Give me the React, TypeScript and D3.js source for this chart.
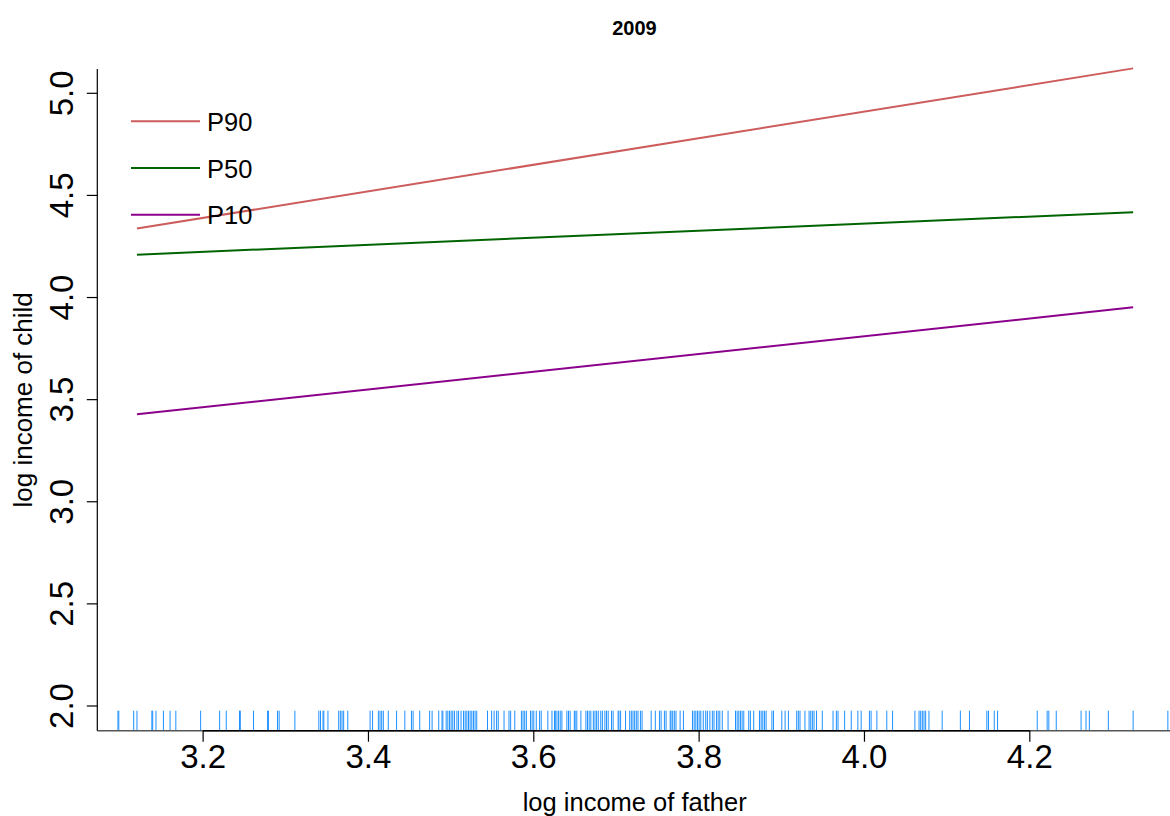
import React from "react";
import * as d3 from "d3";

// Quantile-regression fits of child log income on father log income, 2009
const fitX = [3.12, 4.325];
const p90 = [4.338, 5.122];
const p50 = [4.21, 4.418];
const p10 = [3.428, 3.952];

const seriesNames = ["P90", "P50", "P10"];
const seriesColors = ["#CD5C5C", "#006400", "#8B008B"];

const xTicks = [3.2, 3.4, 3.6, 3.8, 4.0, 4.2];
const yTicks = [2.0, 2.5, 3.0, 3.5, 4.0, 4.5, 5.0];

// Observed father log incomes (rug)
const fatherObs = [
  3.097, 3.098, 3.116, 3.12, 3.138, 3.139, 3.143, 3.152, 3.16, 3.167,
  3.197, 3.22, 3.228, 3.244, 3.245, 3.261, 3.278, 3.279, 3.29, 3.292,
  3.311, 3.34, 3.342, 3.345, 3.346, 3.351, 3.364, 3.366, 3.368, 3.37,
  3.375, 3.402, 3.405, 3.412, 3.414, 3.416, 3.418, 3.424,
  3.434, 3.444, 3.452, 3.454, 3.462, 3.474, 3.477, 3.485, 3.489, 3.49,
  3.494, 3.496, 3.498, 3.5, 3.502, 3.504, 3.507, 3.509, 3.512, 3.515,
  3.517, 3.519, 3.521, 3.523, 3.525, 3.527, 3.529, 3.531, 3.544, 3.549,
  3.552, 3.555, 3.557, 3.564, 3.57, 3.572, 3.577, 3.585, 3.587, 3.589,
  3.591, 3.596, 3.598, 3.6, 3.603, 3.607, 3.609, 3.617, 3.622, 3.625,
  3.626, 3.628, 3.63, 3.632, 3.634, 3.64, 3.642, 3.644, 3.649, 3.65,
  3.652, 3.657, 3.663, 3.665, 3.667, 3.669, 3.672, 3.674, 3.676, 3.678,
  3.681, 3.683, 3.686, 3.688, 3.69, 3.694, 3.696, 3.702, 3.703, 3.705,
  3.711, 3.716, 3.718, 3.72, 3.722, 3.724, 3.726, 3.729, 3.731, 3.742,
  3.747, 3.752, 3.754, 3.758, 3.76,
  3.765, 3.766, 3.768, 3.77, 3.772, 3.777, 3.781, 3.792, 3.794, 3.796,
  3.798, 3.8, 3.802, 3.805, 3.808, 3.81, 3.813, 3.816, 3.818, 3.821,
  3.823, 3.825, 3.828, 3.835, 3.844, 3.846, 3.848, 3.85, 3.852, 3.854,
  3.86, 3.862, 3.866, 3.873, 3.875, 3.877, 3.879, 3.881, 3.888, 3.89,
  3.9, 3.904, 3.908, 3.918, 3.92, 3.922, 3.928, 3.933, 3.935, 3.937,
  3.939, 3.942, 3.949, 3.962, 3.966, 3.968, 3.976, 3.984, 3.992, 3.996,
  4.006, 4.008, 4.015, 4.027, 4.034, 4.061, 4.066, 4.068, 4.07, 4.072,
  4.074, 4.078, 4.094, 4.116,
  4.127, 4.148, 4.15, 4.157, 4.161, 4.209, 4.221, 4.223, 4.232, 4.262,
  4.268, 4.272, 4.295, 4.325, 4.367,
];

const W = 1170;
const H = 816;
const plot = { left: 97.3, right: 1172, top: 69, bottom: 730.7 };
const font = "Liberation Sans, Arial, Helvetica, sans-serif";

export default function App() {
  const x = d3.scaleLinear().domain([3.072, 4.372]).range([plot.left, plot.right]);
  const y = d3.scaleLinear().domain([1.879, 5.119]).range([plot.bottom, plot.top]);

  const line = d3
    .line<[number, number]>()
    .x((d) => x(d[0]))
    .y((d) => y(d[1]));

  const series = [p90, p50, p10].map((vals) =>
    vals.map((v, i) => [fitX[i], v] as [number, number])
  );

  const rugLen = 20;
  const legendY = [121.3, 168, 214.7];

  return (
    <svg
      width={W}
      height={H}
      style={{ position: "absolute", left: 0, top: 0, background: "#fff" }}
      fontFamily={font}
    >
      <rect width={W} height={H} fill="#fff" />

      {/* title */}
      <text x={634.5} y={35} textAnchor="middle" fontSize={20} fontWeight="bold">
        2009
      </text>

      {/* rug of observed father incomes */}
      <g stroke="#1E90FF" strokeWidth={1}>
        {fatherObs.map((v, i) => (
          <line key={i} x1={x(v)} x2={x(v)} y1={plot.bottom} y2={plot.bottom - rugLen} />
        ))}
      </g>

      {/* fitted quantile lines */}
      {series.map((s, i) => (
        <path key={i} d={line(s) || ""} fill="none" stroke={seriesColors[i]} strokeWidth={2} />
      ))}

      {/* frame */}
      <line x1={plot.left} x2={plot.right} y1={plot.bottom} y2={plot.bottom} stroke="#555" strokeWidth={1.5} />
      <line x1={plot.left} x2={plot.left} y1={plot.top} y2={plot.bottom} stroke="#000" strokeWidth={1.2} />

      {/* x axis */}
      <line
        x1={x(xTicks[0])}
        x2={x(xTicks[xTicks.length - 1])}
        y1={plot.bottom}
        y2={plot.bottom}
        stroke="#000"
        strokeWidth={1.5}
      />
      {xTicks.map((t) => (
        <g key={t}>
          <line x1={x(t)} x2={x(t)} y1={plot.bottom} y2={plot.bottom + 11} stroke="#000" strokeWidth={1.2} />
          <text x={x(t)} y={768} textAnchor="middle" fontSize={33}>
            {t.toFixed(1)}
          </text>
        </g>
      ))}
      <text x={634.7} y={810.5} textAnchor="middle" fontSize={25.5}>
        log income of father
      </text>

      {/* y axis */}
      {yTicks.map((t) => (
        <g key={t}>
          <line x1={plot.left - 10.5} x2={plot.left} y1={y(t)} y2={y(t)} stroke="#000" strokeWidth={1.2} />
          <text
            transform={`translate(73,${y(t)}) rotate(-90)`}
            textAnchor="middle"
            fontSize={33}
          >
            {t.toFixed(1)}
          </text>
        </g>
      ))}
      <text transform={`translate(32,${(plot.top + plot.bottom) / 2}) rotate(-90)`} textAnchor="middle" fontSize={26}>
        log income of child
      </text>

      {/* legend */}
      {seriesNames.map((n, i) => (
        <g key={n}>
          <line x1={131} x2={200} y1={legendY[i]} y2={legendY[i]} stroke={seriesColors[i]} strokeWidth={2} />
          <text x={207} y={legendY[i] + 9.5} fontSize={25.5}>
            {n}
          </text>
        </g>
      ))}
    </svg>
  );
}
